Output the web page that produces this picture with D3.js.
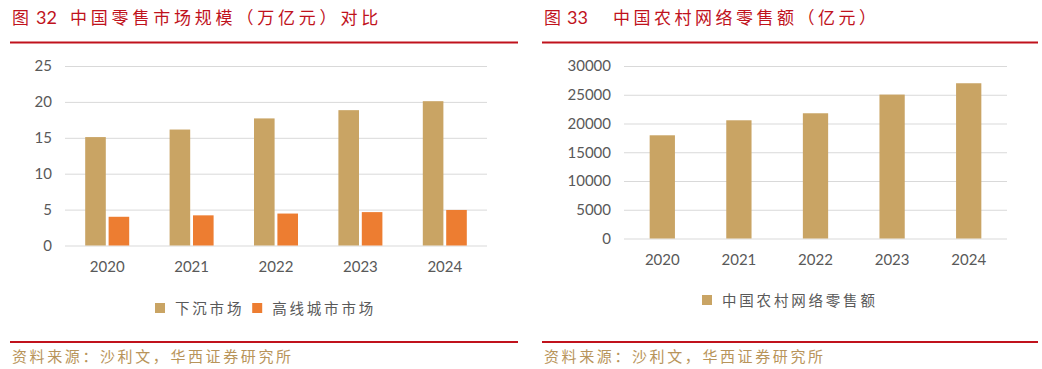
<!DOCTYPE html>
<html>
<head>
<meta charset="utf-8">
<script src="https://cdn.jsdelivr.net/npm/d3@7"></script>
<style>
  body { margin: 0; background: #fff; }
  svg { display: block; }
</style>
</head>
<body>
<svg id="chart" width="1042" height="369"></svg>
<script>
// data
var years = ["2020", "2021", "2022", "2023", "2024"];
var sinkMarket = [15.1, 16.15, 17.7, 18.85, 20.1];
var highTierMarket = [4.0, 4.2, 4.45, 4.65, 4.95];
var ruralOnline = [17950, 20560, 21780, 25030, 27000];
var leftTicks = [0, 5, 10, 15, 20, 25];
var rightTicks = [0, 5000, 10000, 15000, 20000, 25000, 30000];

var tan = "#c9a464", orange = "#ed7d31", red = "#c0121c", grid = "#d9d9d9", tickCol = "#595959";
var cjk = "'Noto Sans CJK SC', sans-serif";
var num = "Lato, sans-serif";

var svg = d3.select("#chart");

function header(g, x0, x1, numText, numX, titleText, titleX, spacing) {
  g.append("text").attr("x", x0 + 2).attr("y", 24)
    .style("font-family", cjk).style("font-size", "17px").style("fill", red)
    .text("图");
  g.append("text").attr("x", numX).attr("y", 24)
    .style("font-family", num).style("font-size", "18px").style("fill", red)
    .text(numText);
  g.append("text").attr("x", titleX).attr("y", 24)
    .style("font-family", cjk).style("font-size", "17px").style("fill", red)
    .style("letter-spacing", spacing + "px")
    .text(titleText);
  g.append("line").attr("x1", x0).attr("x2", x1).attr("y1", 42.5).attr("y2", 42.5)
    .attr("stroke", red).attr("stroke-width", 2.2);
  g.append("line").attr("x1", x0).attr("x2", x1).attr("y1", 342).attr("y2", 342)
    .attr("stroke", red).attr("stroke-width", 2);
  g.append("text").attr("x", x0 + 2).attr("y", 362)
    .style("font-family", cjk).style("font-size", "15px").style("fill", "#b8945a")
    .style("letter-spacing", "2.6px")
    .text("资料来源：沙利文，华西证券研究所");
}

function yAxis(g, y, ticks, xl, xr) {
  var ax = g.append("g").attr("transform", "translate(" + xl + ",0)")
    .call(d3.axisLeft(y).tickValues(ticks).tickSize(-(xr - xl)).tickPadding(13).tickFormat(d3.format("d")));
  ax.select(".domain").remove();
  ax.selectAll(".tick line").attr("stroke", grid).attr("stroke-width", 1);
  ax.selectAll(".tick text").style("font-family", num).style("font-size", "15px").style("fill", tickCol);
}

function xAxis(g, x, yPos) {
  var ax = g.append("g").attr("transform", "translate(0," + yPos + ")")
    .call(d3.axisBottom(x).tickSize(0).tickPadding(15));
  ax.select(".domain").remove();
  ax.selectAll(".tick text").style("font-family", num).style("font-size", "15px").style("fill", tickCol);
}

function legend(g, items, x, y) {
  var cx = x;
  items.forEach(function(it) {
    g.append("rect").attr("x", cx).attr("y", y - 5).attr("width", 10).attr("height", 10).attr("fill", it.color);
    var t = g.append("text").attr("x", cx + 20).attr("y", y + 5.5)
      .style("font-family", cjk).style("font-size", "14.5px").style("fill", tickCol)
      .style("letter-spacing", "2.8px").text(it.label);
    cx += 20 + t.node().getComputedTextLength() + 8;
  });
}

// left chart
var left = svg.append("g");
header(left, 10, 518, "32", 36, "中国零售市场规模（万亿元）对比", 70, 3.8);

var xL = d3.scaleBand().domain(years).range([65, 487]).padding(0);
var yL = d3.scaleLinear().domain([0, 25]).range([245.5, 66]);
yAxis(left, yL, leftTicks, 65, 487);

var inner = d3.scaleBand().domain([0, 1]).range([-22, 22]).paddingInner(0.12);
var series = [sinkMarket, highTierMarket];
var serCol = [tan, orange];
series.forEach(function(vals, s) {
  left.selectAll(".bar" + s).data(vals).enter().append("rect")
    .attr("x", function(d, i) { return xL(years[i]) + xL.bandwidth() / 2 + inner(s); })
    .attr("width", inner.bandwidth())
    .attr("y", function(d) { return yL(d); })
    .attr("height", function(d) { return yL(0) - yL(d); })
    .attr("fill", serCol[s]);
});
xAxis(left, xL, 246);
legend(left, [{ label: "下沉市场", color: tan }, { label: "高线城市市场", color: orange }], 155, 308);

// right chart
var right = svg.append("g");
header(right, 542, 1038, "33", 567, "中国农村网络零售额（亿元）", 613, 3.5);

var xR = d3.scaleBand().domain(years).range([624, 1007]).paddingInner(0.67).paddingOuter(0.335);
var yR = d3.scaleLinear().domain([0, 30000]).range([238.5, 66]);
yAxis(right, yR, rightTicks, 624, 1007);

right.selectAll(".bar").data(ruralOnline).enter().append("rect")
  .attr("x", function(d, i) { return xR(years[i]); })
  .attr("width", xR.bandwidth())
  .attr("y", function(d) { return yR(d); })
  .attr("height", function(d) { return yR(0) - yR(d); })
  .attr("fill", tan);
xAxis(right, xR, 239);
legend(right, [{ label: "中国农村网络零售额", color: tan }], 702, 300);
</script>
</body>
</html>
